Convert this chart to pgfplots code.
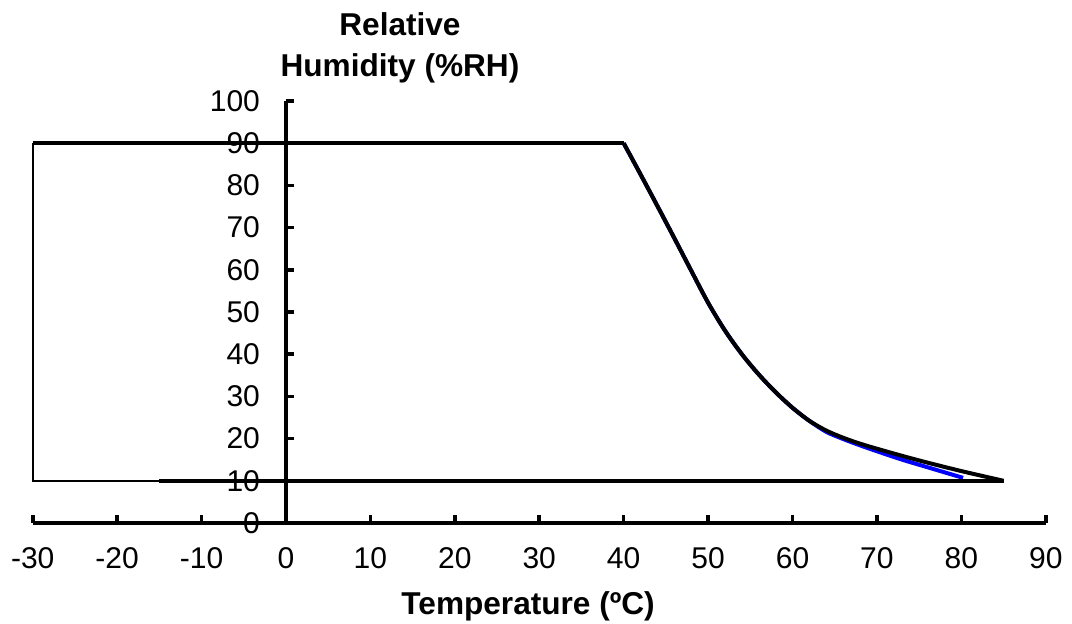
\documentclass[border=0pt]{standalone}
\usepackage{fontspec}
\setmainfont{Liberation Sans}
\usepackage{pgfplots}
\pgfplotsset{compat=1.18}

\begin{document}
\begin{tikzpicture}
\useasboundingbox (-143pt,-50.5pt) rectangle (393pt,261.5pt);
\begin{axis}[
  at={(0pt,0pt)}, anchor=origin,
  width=506.5pt, height=211pt, scale only axis,
  axis lines=middle,
  axis line style={line width=2pt, -},
  xmin=-30, xmax=90, ymin=0, ymax=100,
  xtick={-30,-20,...,90},
  xticklabels={-30,-20,-10,0,10,20,30,40,50,60,70,80,90},
  ytick={0,10,...,100},
  yticklabels={0,10,20,30,40,50,60,70,80,90,100},
  hide obscured x ticks=false,
  hide obscured y ticks=false,
  tick align=inside,
  major tick length=4pt,
  tick style={line width=1.8pt, black},
  ticklabel style={font=\fontsize{15}{15}\selectfont},
  xticklabel style={yshift=-8.5pt},
  yticklabel style={xshift=-9.5pt},
  xlabel={Temperature (ºC)},
  ylabel={Relative\\Humidity (\%RH)},
  every axis x label/.style={at={(rel axis cs:0.489,-0.197)}, anchor=center,
    font=\fontsize{15.8}{15.8}\selectfont\bfseries},
  every axis y label/.style={at={(rel axis cs:0.3625,1.126)}, anchor=center,
    align=center, font=\fontsize{15.8}{20.5}\selectfont\bfseries},
  clip=false,
]
% thin left edge of the region
\addplot[black, line width=1.2pt] coordinates {(-30,90) (-30,10) (-15,10)};
% blue curve underneath
\addplot[blue, line width=2pt, smooth] coordinates {
  (40,90) (42,82.6) (44,75.1) (46,67.5) (48,59.8) (50,52.2) (52,45.6)
  (54,40.0) (56,35.2) (58,31.0) (60,27.3) (62,24.2) (64,21.6) (66,19.9)
  (68,18.4) (70,17.0) (73,15.0) (76,13.2) (80.2,10.7)
};
% black outline
\addplot[black, line width=2pt] coordinates {(-30,90) (40,90)};
\addplot[black, line width=2pt, smooth] coordinates {
  (40,90) (42,82.6) (44,75.1) (46,67.5) (48,59.8) (50,52.2) (52,45.6)
  (54,40.0) (56,35.2) (58,31.0) (60,27.3) (62,24.2) (64,21.9) (66,20.2)
  (68,18.8) (70,17.6) (73,15.9) (76,14.3) (80,12.3) (85,10)
};
\addplot[black, line width=2pt] coordinates {(85,10) (-15,10)};
\end{axis}
\end{tikzpicture}
\end{document}
